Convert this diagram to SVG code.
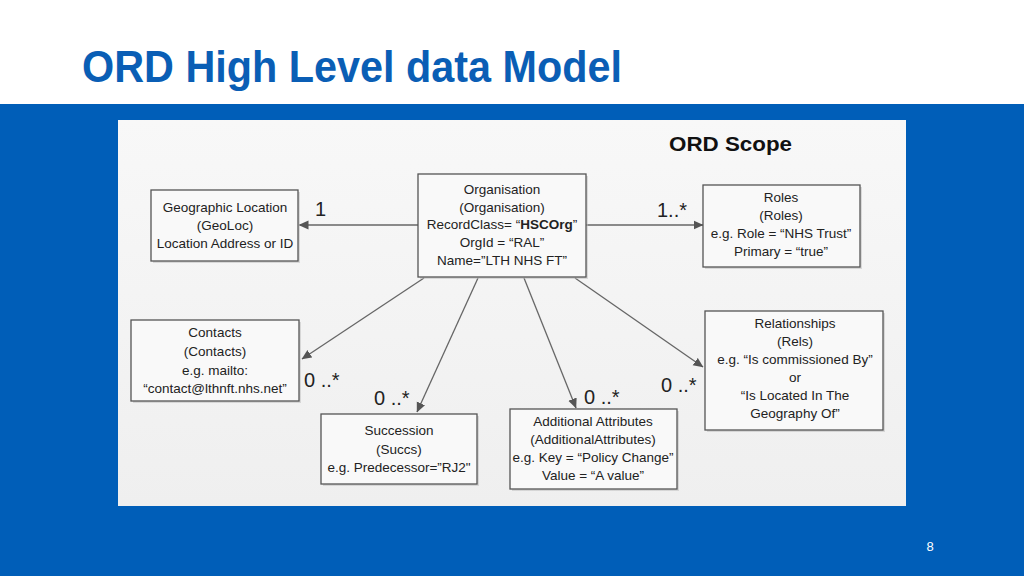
<svg xmlns="http://www.w3.org/2000/svg" width="1024" height="576" viewBox="0 0 1024 576">
<defs>
<marker id="arr" viewBox="0 0 10 10" refX="9.5" refY="5" markerWidth="10" markerHeight="10" markerUnits="userSpaceOnUse" orient="auto">
<path d="M0,0.5 L10,5 L0,9.5 Z" fill="#555"/>
</marker>
<linearGradient id="pg" x1="0" y1="0" x2="0" y2="1">
<stop offset="0" stop-color="#f8f8f8"/>
<stop offset="1" stop-color="#efefef"/>
</linearGradient>
</defs>
<style>
.box{fill:#f9f9f9;stroke:#555;stroke-width:1.3}
.sh{fill:#bbb;opacity:0.5}
.t{font-family:"Liberation Sans",Arial,sans-serif;font-size:13.5px;fill:#222;text-anchor:middle}
.m{font-family:"Liberation Sans",Arial,sans-serif;font-size:20px;fill:#222}
.c{stroke:#666;stroke-width:1.3;fill:none;marker-end:url(#arr)}
</style>
<rect x="0" y="0" width="1024" height="576" fill="#ffffff"/>
<rect x="0" y="104" width="1024" height="472" fill="#005EB8"/>
<text x="82" y="82" font-family="Liberation Sans,Arial,sans-serif" font-weight="bold" font-size="44" fill="#0A5EB5" textLength="540" lengthAdjust="spacingAndGlyphs">ORD High Level data Model</text>
<text x="930" y="551" font-family="Liberation Sans,Arial,sans-serif" font-size="13" fill="#ffffff" text-anchor="middle">8</text>
<rect x="118" y="120" width="788" height="386" fill="url(#pg)"/>
<text x="669" y="151" font-family="Liberation Sans,Arial,sans-serif" font-weight="bold" font-size="21" fill="#111" textLength="123" lengthAdjust="spacingAndGlyphs">ORD Scope</text>

<g id="connectors">
<line class="c" x1="418" y1="225" x2="299" y2="225"/>
<line class="c" x1="586" y1="225" x2="703" y2="225"/>
<line class="c" x1="424" y1="278" x2="302" y2="359"/>
<line class="c" x1="478" y1="278" x2="417" y2="412"/>
<line class="c" x1="524" y1="278" x2="576" y2="408"/>
<line class="c" x1="575" y1="278" x2="703" y2="367"/>
<text class="m" x="315" y="216">1</text>
<text class="m" x="657" y="217">1..*</text>
<text class="m" x="304" y="387">0 ..*</text>
<text class="m" x="374" y="405">0 ..*</text>
<text class="m" x="584" y="404">0 ..*</text>
<text class="m" x="661" y="392">0 ..*</text>
</g>

<g id="geo">
<rect class="sh" x="153" y="192" width="147" height="71"/>
<rect class="box" x="151" y="190" width="147" height="71"/>
<text class="t" x="225" y="212">Geographic Location</text>
<text class="t" x="225" y="230">(GeoLoc)</text>
<text class="t" x="225" y="248">Location Address or ID</text>
</g>

<g id="org">
<rect class="sh" x="420" y="176" width="168" height="103"/>
<rect class="box" x="418" y="174" width="168" height="103"/>
<text class="t" x="502" y="194">Organisation</text>
<text class="t" x="502" y="212">(Organisation)</text>
<text class="t" x="502" y="229">RecordClass= “<tspan font-weight="bold">HSCOrg</tspan>”</text>
<text class="t" x="502" y="247">OrgId = “RAL”</text>
<text class="t" x="502" y="265">Name=”LTH NHS FT”</text>
</g>

<g id="roles">
<rect class="sh" x="705" y="187" width="157" height="82"/>
<rect class="box" x="703" y="185" width="157" height="82"/>
<text class="t" x="781" y="202">Roles</text>
<text class="t" x="781" y="220">(Roles)</text>
<text class="t" x="781" y="238">e.g. Role = “NHS Trust”</text>
<text class="t" x="781" y="256">Primary = “true”</text>
</g>

<g id="contacts">
<rect class="sh" x="133" y="322" width="168" height="81"/>
<rect class="box" x="131" y="320" width="168" height="81"/>
<text class="t" x="215" y="337">Contacts</text>
<text class="t" x="215" y="356">(Contacts)</text>
<text class="t" x="215" y="375">e.g. mailto:</text>
<text class="t" x="215" y="393">“contact@lthnft.nhs.net”</text>
</g>

<g id="succession">
<rect class="sh" x="323" y="416" width="156" height="70"/>
<rect class="box" x="321" y="414" width="156" height="70"/>
<text class="t" x="399" y="435">Succession</text>
<text class="t" x="399" y="454">(Succs)</text>
<text class="t" x="399" y="472">e.g. Predecessor=”RJ2"</text>
</g>

<g id="additional">
<rect class="sh" x="512" y="411" width="167" height="80"/>
<rect class="box" x="510" y="409" width="167" height="80"/>
<text class="t" x="593" y="426">Additional Attributes</text>
<text class="t" x="593" y="444">(AdditionalAttributes)</text>
<text class="t" x="593" y="462">e.g. Key = “Policy Change”</text>
<text class="t" x="593" y="480">Value = “A value”</text>
</g>

<g id="relationships">
<rect class="sh" x="707" y="313" width="178" height="119"/>
<rect class="box" x="705" y="311" width="178" height="119"/>
<text class="t" x="795" y="328">Relationships</text>
<text class="t" x="795" y="346">(Rels)</text>
<text class="t" x="795" y="364">e.g. “Is commissioned By”</text>
<text class="t" x="795" y="382">or</text>
<text class="t" x="795" y="400">“Is Located In The</text>
<text class="t" x="795" y="418">Geography Of”</text>
</g>
</svg>
